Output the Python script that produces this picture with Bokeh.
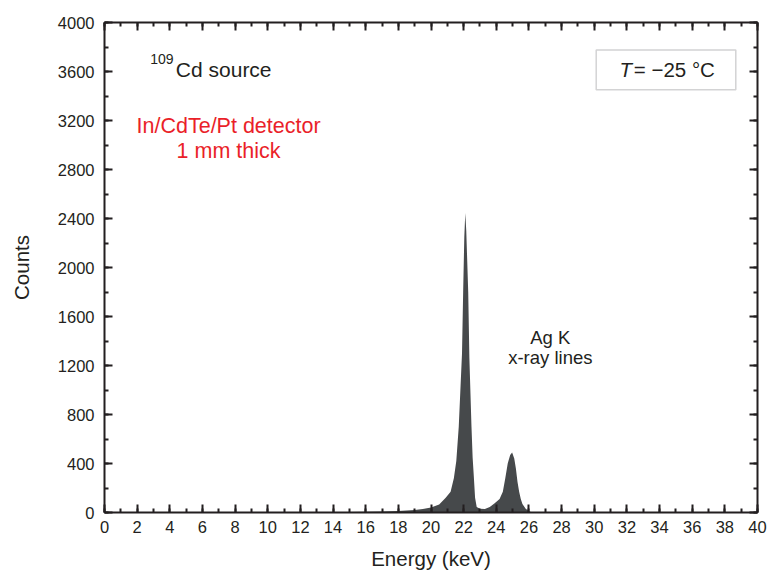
from bokeh.plotting import figure
from bokeh.models import (LinearAxis, SingleIntervalTicker, Label, BoxAnnotation, Range1d,
                          CustomJSTickFormatter)
from bokeh.embed import file_html
from bokeh.resources import INLINE

# ---- data ----
energy_kev = [14.0, 14.5, 15.0, 16.0, 17.0, 18.0, 19.0, 19.5, 20.0, 20.5, 20.9,
              21.2, 21.4, 21.55, 21.7, 21.8, 21.9, 21.97, 22.04, 22.1, 22.16,
              22.22, 22.28, 22.35, 22.48, 22.55, 22.62, 22.7, 22.8, 23.0, 23.3,
              23.6, 23.9, 24.2, 24.4, 24.55, 24.7, 24.85, 24.97, 25.1, 25.2,
              25.3, 25.4, 25.5, 25.6, 25.8, 26.0, 26.2]
counts = [0, 3, 4, 6, 8, 12, 20, 28, 40, 65, 120,
          170, 280, 420, 700, 1000, 1300, 1800, 2250, 2445, 2300,
          2050, 1800, 1265, 700, 450, 300, 120, 45, 30, 28,
          45, 75, 110, 170, 280, 400, 470, 490, 440, 360,
          250, 170, 110, 70, 30, 10, 0]

x_ticks_major = 2
y_ticks_major = 400

FONT = "Liberation Sans"
BLACK = "#231f20"
RED = "#ea1f29"

p = figure(width=767, height=572, x_range=Range1d(0, 40), y_range=Range1d(0, 4000),
           output_backend="svg", toolbar_location=None,
           x_axis_location=None, y_axis_location=None,
           min_border_left=104, min_border_right=10, min_border_top=22, min_border_bottom=60)
p.grid.visible = False
p.outline_line_color = None
p.background_fill_color = "white"
p.border_fill_color = "white"

p.varea(x=energy_kev, y1=[0] * len(counts), y2=counts, fill_color="#46494b")

bottom = LinearAxis(axis_label="Energy (keV)")
left = LinearAxis(axis_label="Counts")
top = LinearAxis(formatter=CustomJSTickFormatter(code="return ''"))
right = LinearAxis(formatter=CustomJSTickFormatter(code="return ''"))
p.add_layout(bottom, "below")
p.add_layout(left, "left")
p.add_layout(top, "above")
p.add_layout(right, "right")

for ax in [bottom, top]:
    ax.ticker = SingleIntervalTicker(interval=x_ticks_major, num_minor_ticks=2)
for ax in [left, right]:
    ax.ticker = SingleIntervalTicker(interval=y_ticks_major, num_minor_ticks=2)

for ax in [bottom, left, top, right]:
    ax.axis_line_width = 2
    ax.axis_line_color = BLACK
    ax.major_tick_in = 8
    ax.major_tick_out = 0
    ax.minor_tick_in = 4
    ax.minor_tick_out = 0
    ax.major_tick_line_width = 2
    ax.minor_tick_line_width = 2
    ax.major_tick_line_color = BLACK
    ax.minor_tick_line_color = BLACK
    ax.major_label_text_font = FONT
    ax.major_label_text_font_size = "16.5px"
    ax.major_label_text_color = BLACK
    ax.axis_label_text_font = FONT
    ax.axis_label_text_font_size = "20.5px"
    ax.axis_label_text_font_style = "normal"
    ax.axis_label_text_color = BLACK

for ax in [top, right]:
    ax.major_label_standoff = 0

bottom.major_label_standoff = 8
left.major_label_standoff = 10
bottom.axis_label_standoff = 11
left.axis_label_standoff = 22

p.add_layout(Label(x=2.80, y=3700, text="109", text_font=FONT, text_font_size="14px",
                   text_color=BLACK, text_baseline="middle", text_align="left"))
p.add_layout(Label(x=4.37, y=3615, text="Cd source", text_font=FONT, text_font_size="21px",
                   text_color=BLACK, text_baseline="middle", text_align="left"))
p.add_layout(Label(x=7.60, y=3158, text="In/CdTe/Pt detector", text_font=FONT,
                   text_font_size="21.5px", text_color=RED, text_baseline="middle",
                   text_align="center"))
p.add_layout(Label(x=7.60, y=2953, text="1 mm thick", text_font=FONT,
                   text_font_size="21.5px", text_color=RED, text_baseline="middle",
                   text_align="center"))

p.add_layout(BoxAnnotation(left=30.12, right=38.67, bottom=3452, top=3776,
                           fill_color="white", fill_alpha=1.0,
                           line_color="#6d6e71", line_width=1.5))
p.add_layout(Label(x=32.31, y=3615, text="T", text_font=FONT, text_font_size="20.5px",
                   text_font_style="italic", text_color=BLACK,
                   text_baseline="middle", text_align="right"))
p.add_layout(Label(x=32.42, y=3615, text="= \u221225 \u00b0C", text_font=FONT,
                   text_font_size="20.5px", text_color=BLACK,
                   text_baseline="middle", text_align="left"))

p.add_layout(Label(x=27.31, y=1426, text="Ag K", text_font=FONT, text_font_size="18.5px",
                   text_color=BLACK, text_baseline="middle", text_align="center"))
p.add_layout(Label(x=27.31, y=1263, text="x-ray lines", text_font=FONT,
                   text_font_size="18.5px", text_color=BLACK, text_baseline="middle",
                   text_align="center"))

open("out.html", "w").write(file_html(p, INLINE))
